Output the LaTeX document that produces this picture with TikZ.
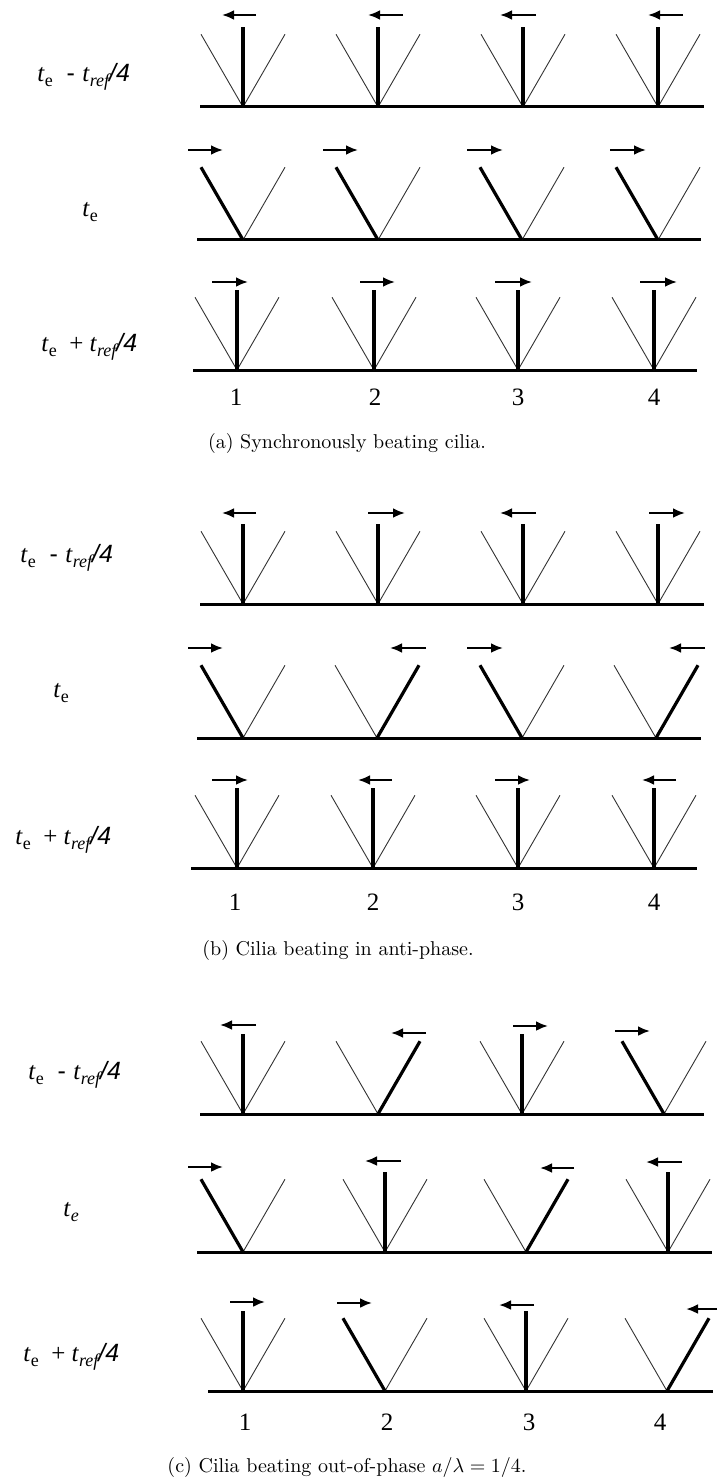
\documentclass[tikz,border=0pt]{standalone}
\usepackage{fontspec}
\newfontfamily\lblfont{Liberation Serif}
\newfontfamily\lblsans{Liberation Sans}
\usetikzlibrary{arrows.meta}
\tikzset{
  wall/.style={line width=1.5pt,line cap=butt},
  fan/.style={line width=0.45pt,draw=black!80},
  cil/.style={line width=1.6pt},
  beat/.style={-{Latex[length=6pt,width=5pt]},line width=1.4pt},
  tlbl/.style={anchor=west,inner sep=0pt,font=\lblfont\fontsize{12.5}{14}\selectfont},
  num/.style={inner sep=0pt,font=\lblfont\fontsize{12.5}{14}\selectfont},
  capt/.style={inner sep=0pt,font=\fontsize{10}{12}\selectfont},
}
% one cilium: two thin limits of the stroke and the thick cilium at angle #3
\newcommand{\cil}[3]{%
  \draw[fan] (#1,#2) -- ++(60:84) (#1,#2) -- ++(120:84);
  \ifnum#3=90 \draw[cil] (#1,#2) -- ++(90:80);\else\draw[cil] (#1,#2) -- ++(#3:84);\fi}
\newcommand{\tsub}[2]{\textit{#1}\raisebox{-0.45ex}{\fontsize{9}{10}\selectfont #2}}
\newcommand{\tmin}{\tsub{t}{e}\hspace{0.55em}{\lblsans -}\hspace{0.3em}\tsub{t}{\itshape ref}{\lblsans\itshape /4}}
\newcommand{\tpls}{\tsub{t}{e}\hspace{0.5em}+\hspace{0.25em}\tsub{t}{\itshape ref}{\lblsans\itshape /4}}

\begin{document}
\begin{tikzpicture}[x=0.5pt,y=0.5pt]
\useasboundingbox (0,0) rectangle (717,-1481);

% (a) synchronous
\node[tlbl] (la1) at (37,-77) {\tmin};
\draw[wall] (200,-107) -- (704,-107);
\foreach \bx in {243,378,523,658} {\cil{\bx}{-107}{90}}
\draw[beat] (256,-15) -- (222,-15);
\draw[beat] (403,-15) -- (368,-15);
\draw[beat] (536,-15) -- (500,-15);
\draw[beat] (683,-15) -- (648,-15);

\node[tlbl] (la2) at (82,-212) {\tsub{t}{e}};
\draw[wall] (197,-240) -- (701,-240);
\foreach \bx in {243,378,522,658} {\cil{\bx}{-240}{120}}
\draw[beat] (188,-150) -- (223,-150);
\draw[beat] (323,-150) -- (358,-150);
\draw[beat] (467,-150) -- (503,-150);
\draw[beat] (610,-150) -- (646,-150);

\node[tlbl] (la3) at (41,-347) {\tpls};
\draw[wall] (193,-370) -- (697,-370);
\foreach \bx in {237,374,518,654} {\cil{\bx}{-370}{90}}
\draw[beat] (212,-282) -- (248,-282);
\draw[beat] (360,-282) -- (395,-282);
\draw[beat] (495,-282) -- (532,-282);
\draw[beat] (640,-282) -- (677,-282);
\node[num] (na1) at (236,-397) {1};
\node[num] (na2) at (375,-397) {2};
\node[num] (na3) at (518,-397) {3};
\node[num] (na4) at (654,-397) {4};
\node[capt] (capa) at (347,-443) {(a) Synchronously beating cilia.};

% (b) anti-phase
\node[tlbl] (lb1) at (20,-558) {\tmin};
\draw[wall] (200,-604) -- (704,-604);
\foreach \bx in {243,378,523,658} {\cil{\bx}{-604}{90}}
\draw[beat] (256,-513) -- (222,-513);
\draw[beat] (368,-513) -- (405,-513);
\draw[beat] (536,-513) -- (500,-513);
\draw[beat] (649,-513) -- (685,-513);

\node[tlbl] (lb2) at (53,-693) {\tsub{t}{e}};
\draw[wall] (197,-738) -- (701,-738);
\cil{243}{-738}{120}
\cil{377}{-738}{60}
\cil{522}{-738}{120}
\cil{656}{-738}{60}
\draw[beat] (188,-648) -- (223,-648);
\draw[beat] (426,-648) -- (390,-648);
\draw[beat] (467,-648) -- (503,-648);
\draw[beat] (705,-648) -- (669,-648);

\node[tlbl] (lb3) at (15,-840) {\tpls};
\draw[wall] (191,-868) -- (697,-868);
\foreach \bx in {237,373,518,654} {\cil{\bx}{-868}{90}}
\draw[beat] (212,-780) -- (248,-780);
\draw[beat] (392,-780) -- (358,-780);
\draw[beat] (495,-780) -- (530,-780);
\draw[beat] (676,-780) -- (642,-780);
\node[num] (nb1) at (235,-902) {1};
\node[num] (nb2) at (373,-902) {2};
\node[num] (nb3) at (518,-902) {3};
\node[num] (nb4) at (654,-902) {4};
\node[capt] (capb) at (338,-950) {(b) Cilia beating in anti-phase.};

% (c) out of phase
\node[tlbl] (lc1) at (28,-1075) {\tmin};
\draw[wall] (200,-1114) -- (704,-1114);
\cil{243}{-1114}{90}
\cil{378}{-1114}{60}
\cil{522}{-1114}{90}
\cil{664}{-1114}{120}
\draw[beat] (256,-1025) -- (220,-1025);
\draw[beat] (426,-1033) -- (391,-1033);
\draw[beat] (513,-1026) -- (548,-1026);
\draw[beat] (615,-1031) -- (650,-1031);

\node[tlbl] (lc2) at (63,-1212) {\textit{t}\raisebox{-0.45ex}{\fontsize{9}{10}\selectfont\itshape e}};
\draw[wall] (197,-1252) -- (712,-1252);
\cil{243}{-1252}{120}
\cil{385}{-1252}{90}
\cil{526}{-1252}{60}
\cil{668}{-1252}{90}
\draw[beat] (188,-1167) -- (223,-1167);
\draw[beat] (401,-1161) -- (365,-1161);
\draw[beat] (574,-1168) -- (540,-1168);
\draw[beat] (682,-1162) -- (646,-1162);

\node[tlbl] (lc3) at (23,-1357) {\tpls};
\draw[wall] (208,-1391) -- (713,-1391);
\cil{243}{-1391}{90}
\cil{385}{-1391}{120}
\cil{526}{-1391}{90}
\cil{667}{-1391}{60}
\draw[beat] (230,-1302) -- (265,-1302);
\draw[beat] (337,-1303) -- (372,-1303);
\draw[beat] (534,-1305) -- (499,-1305);
\draw[beat] (717,-1309) -- (686,-1309);
\node[num] (nc1) at (245,-1422) {1};
\node[num] (nc2) at (387,-1422) {2};
\node[num] (nc3) at (529,-1422) {3};
\node[num] (nc4) at (660,-1422) {4};
\node[capt] (capc) at (347,-1467) {(c) Cilia beating out-of-phase $a/\lambda=1/4$.};
\end{tikzpicture}
\end{document}
